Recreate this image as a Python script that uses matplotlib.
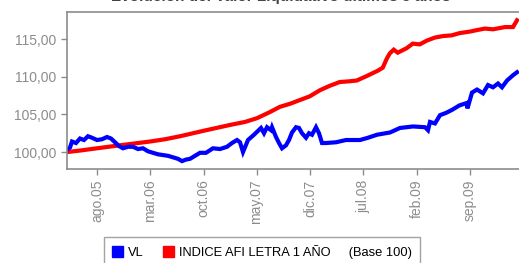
import matplotlib
matplotlib.use("Agg")
import matplotlib.pyplot as plt
import matplotlib.patches as mpatches
from matplotlib.ticker import FuncFormatter
import pandas as pd

plt.rcParams['font.family'] = ['Liberation Sans', 'DejaVu Sans']

# INDICE AFI LETRA 1 AÑO (base 100)
idx_dates = ["2005-04-03", "2005-05-25", "2005-08-01", "2005-11-01", "2006-03-01", "2006-04-30",
             "2006-06-29", "2006-09-28", "2007-01-15", "2007-03-16", "2007-05-03", "2007-06-23",
             "2007-08-02", "2007-09-11", "2007-10-21", "2007-11-30", "2008-01-09", "2008-02-18",
             "2008-03-29", "2008-05-08", "2008-06-05", "2008-07-15", "2008-08-28", "2008-09-17",
             "2008-10-03", "2008-10-15", "2008-10-31", "2008-11-16", "2008-12-22", "2009-01-15",
             "2009-02-12", "2009-03-12", "2009-04-13", "2009-05-15", "2009-06-20", "2009-07-22",
             "2009-09-01", "2009-09-29", "2009-10-31", "2009-12-02", "2010-01-19", "2010-02-20",
             "2010-03-08"]
idx_vals = [100.0, 100.2, 100.5, 100.9, 101.4, 101.7,
            102.1, 102.8, 103.6, 104.0, 104.5, 105.3,
            106.0, 106.4, 106.9, 107.4, 108.2, 108.8,
            109.3, 109.4, 109.5, 110.1, 110.8, 111.2,
            112.4, 113.1, 113.6, 113.2, 113.8, 114.4,
            114.3, 114.8, 115.2, 115.4, 115.5, 115.8,
            116.0, 116.2, 116.4, 116.3, 116.6, 116.6,
            117.5]

# VL (base 100)
vl_dates = ["2005-04-03", "2005-04-15", "2005-04-23", "2005-05-09", "2005-05-25", "2005-06-10",
            "2005-06-26", "2005-07-12", "2005-08-01", "2005-08-21", "2005-09-10", "2005-09-26",
            "2005-10-12", "2005-10-28", "2005-11-13", "2005-12-03", "2005-12-23", "2006-01-12",
            "2006-02-01", "2006-02-21", "2006-03-13", "2006-04-02", "2006-04-22", "2006-05-12",
            "2006-06-01", "2006-06-21", "2006-07-07", "2006-07-23", "2006-08-08", "2006-08-28",
            "2006-09-17", "2006-10-11", "2006-11-08", "2006-12-06", "2007-01-03", "2007-01-23",
            "2007-02-12", "2007-02-24", "2007-03-08", "2007-03-28", "2007-04-21", "2007-05-19",
            "2007-05-31", "2007-06-12", "2007-06-28", "2007-07-02", "2007-07-18", "2007-07-30",
            "2007-08-11", "2007-08-27", "2007-09-08", "2007-09-20", "2007-10-06", "2007-10-18",
            "2007-10-30", "2007-11-15", "2007-11-27", "2007-12-09", "2007-12-25", "2008-01-06",
            "2008-01-18", "2008-02-03", "2008-03-14", "2008-04-23", "2008-06-18", "2008-07-20",
            "2008-08-25", "2008-10-16", "2008-11-25", "2009-01-16", "2009-03-05", "2009-03-17",
            "2009-03-25", "2009-04-14", "2009-05-04", "2009-05-28", "2009-06-21", "2009-07-21",
            "2009-08-18", "2009-08-22", "2009-09-09", "2009-09-29", "2009-10-23", "2009-11-12",
            "2009-12-02", "2009-12-22", "2010-01-07", "2010-01-27", "2010-02-20", "2010-03-08"]
vl_vals = [100.3, 100.6, 101.4, 101.2, 101.8, 101.6,
           102.1, 101.9, 101.6, 101.7, 102.0, 101.8,
           101.3, 100.8, 100.5, 100.7, 100.7, 100.4,
           100.5, 100.1, 99.9, 99.7, 99.6, 99.5,
           99.3, 99.1, 98.8, 99.0, 99.1, 99.5,
           99.9, 99.9, 100.5, 100.4, 100.7, 101.2,
           101.6, 101.3, 100.0, 101.6, 102.3, 103.2,
           102.5, 103.3, 102.9, 103.3, 102.0, 101.2,
           100.5, 100.9, 101.6, 102.6, 103.3, 103.2,
           102.5, 101.9, 102.5, 102.3, 103.3, 102.5,
           101.2, 101.2, 101.3, 101.6, 101.6, 101.9,
           102.3, 102.6, 103.2, 103.4, 103.3, 102.9,
           104.0, 103.8, 104.9, 105.2, 105.6, 106.2,
           106.5, 105.8, 107.9, 108.3, 107.8, 108.9,
           108.6, 109.1, 108.6, 109.5, 110.2, 110.6]

tick_dates = ["2005-08-01", "2006-03-01", "2006-10-01", "2007-05-01", "2007-12-01",
              "2008-07-01", "2009-02-01", "2009-09-01"]
tick_labels = ["ago.05", "mar.06", "oct.06", "may.07", "dic.07", "jul.08", "feb.09", "sep.09"]

grey = "#8c8c8c"

fig = plt.figure(figsize=(5.19, 2.63), dpi=100)
ax = fig.add_axes([67 / 519, 94 / 263, 452 / 519, 157 / 263])

ax.plot(pd.to_datetime(idx_dates), idx_vals, color="#ff0000", lw=3, solid_joinstyle="miter")
ax.plot(pd.to_datetime(vl_dates), vl_vals, color="#0000ff", lw=3, solid_joinstyle="miter")

ax.set_xlim(pd.Timestamp("2005-04-03"), pd.Timestamp("2010-03-16"))
ax.set_ylim(97.75, 118.6)
ax.set_yticks([100, 105, 110, 115])
ax.yaxis.set_major_formatter(FuncFormatter(lambda v, p: f"{v:.2f}".replace(".", ",")))
ax.set_xticks(pd.to_datetime(tick_dates))
ax.set_xticklabels(tick_labels, rotation=90)

for s in ["left", "bottom", "top"]:
    ax.spines[s].set_color(grey)
    ax.spines[s].set_linewidth(1.2)
ax.spines["right"].set_visible(False)
ax.tick_params(colors=grey, labelcolor=grey, labelsize=10, length=4, width=1)

# title is mostly outside the image in the original
fig.text(0.54, 1 - 1 / 263, "Evolución del Valor Liquidativo últimos 5 años",
         ha="center", va="baseline", fontsize=11, fontweight="bold", color="#444444")

handles = [mpatches.Patch(color="#0000ff"), mpatches.Patch(color="#ff0000")]
leg = fig.legend(handles, ["VL", "INDICE AFI LETRA 1 AÑO     (Base 100)"], ncol=2,
                 loc="upper left", bbox_to_anchor=(104 / 519, 26 / 263), fontsize=9.3,
                 handlelength=0.85, handleheight=0.9, handletextpad=0.4, columnspacing=1.5,
                 fancybox=False, edgecolor=grey, borderpad=0.6, borderaxespad=0)
leg.get_frame().set_linewidth(1)

fig.savefig("out.png", dpi=100)
